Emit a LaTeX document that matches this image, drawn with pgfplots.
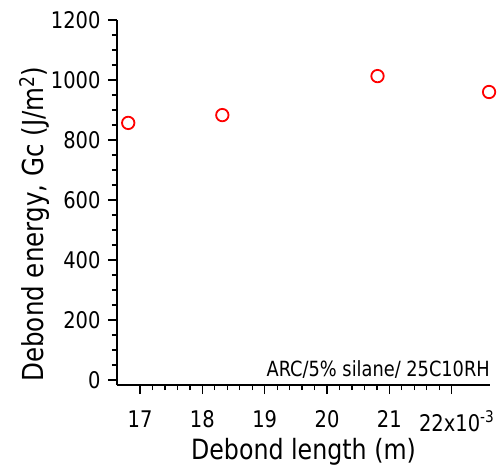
\documentclass[border=0pt]{standalone}
\usepackage{pgfplots}
\pgfplotsset{compat=1.18}
\usepackage{fontspec}
\setmainfont{DejaVu Sans}[FakeStretch=0.85]
\begin{document}
\begin{tikzpicture}
\begin{axis}[
  scale only axis, width=373bp, height=365bp,
  xmin=16.63, xmax=22.615, ymin=-16.7, ymax=1200,
  axis x line*=bottom, axis y line*=left,
  axis line style={line width=1.3bp, -},
  xtick={17,18,19,20,21,22},
  xticklabels={17,18,19,20,21,{\hspace*{10bp}22x10\textsuperscript{-3}}},
  ytick={0,200,400,600,800,1000,1200},
  minor x tick num=4, minor y tick num=3,
  tick align=outside,
  major tick length=9bp, minor tick length=5bp,
  every tick/.style={line width=1.3bp, black},
  /pgf/number format/assume math mode=true,
  yticklabel style={/pgf/number format/1000 sep={}, xshift=-4bp},
  xticklabel style={yshift=-13bp},
  tick label style={font=\fontsize{23}{27}\selectfont},
  xlabel={Debond length (m)},
  ylabel={Debond energy, Gc (J/m\textsuperscript{2})},
  xlabel style={font=\fontsize{28}{32}\selectfont, at={(axis description cs:0.5,-0.205)}, anchor=base},
  ylabel style={font=\fontsize{29}{33}\selectfont, at={(axis description cs:-0.198,0.441)}, anchor=base, rotate=0},
  clip=false,
]
\addplot[only marks, mark=o, mark size=6.2bp, draw=red, mark options={line width=1.8bp, draw=red}]
  coordinates {(16.81,857) (18.32,883) (20.81,1013) (22.60,960)};
\node[anchor=south east, inner sep=0pt, font=\fontsize{21}{24}\selectfont] at (axis description cs:1,0.018) {ARC/5\% silane/ 25C10RH};
\coordinate (O) at (rel axis cs:0,0);
\end{axis}
\pgfresetboundingbox
\path (O) ++(-117bp,-80bp) rectangle ++(497bp,465bp);
\end{tikzpicture}
\end{document}
